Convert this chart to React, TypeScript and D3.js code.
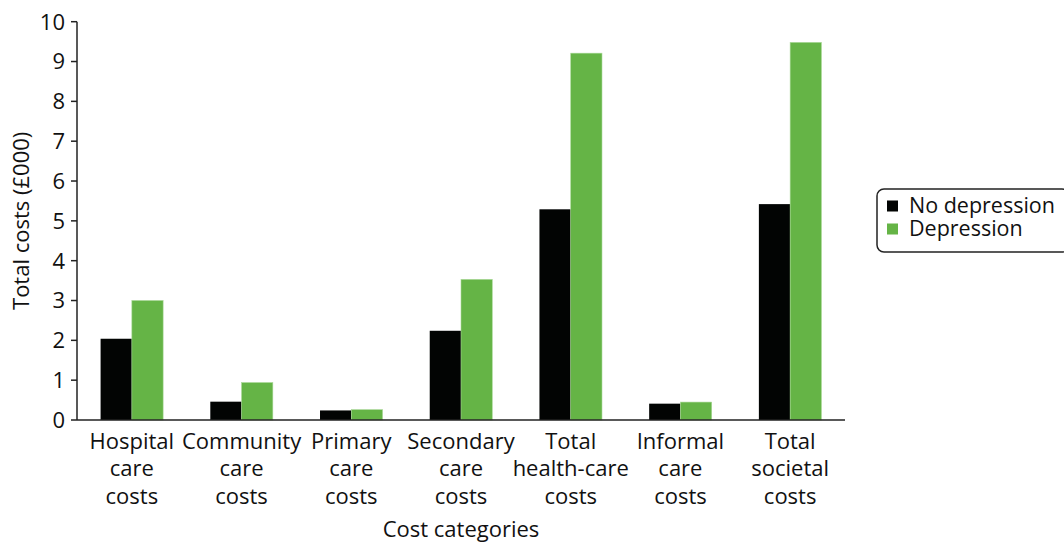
import React from "react";
import * as d3 from "d3";

const categories = [
  ["Hospital", "care", "costs"],
  ["Community", "care", "costs"],
  ["Primary", "care", "costs"],
  ["Secondary", "care", "costs"],
  ["Total", "health-care", "costs"],
  ["Informal", "care", "costs"],
  ["Total", "societal", "costs"],
];
const noDepression = [2.04, 0.46, 0.24, 2.24, 5.29, 0.41, 5.42];
const depression = [3.0, 0.94, 0.26, 3.53, 9.21, 0.45, 9.48];
const seriesNames = ["No depression", "Depression"];
const seriesColors = ["#020403", "#65B446"];
const yTicks = [0, 1, 2, 3, 4, 5, 6, 7, 8, 9, 10];

const W = 1064;
const H = 544;
const left = 77;
const right = 845;
const top = 21.7;
const bottom = 420;
const font = "'Open Sans', 'Noto Sans', sans-serif";
const fs = 22;

export default function App() {
  const x = d3
    .scaleBand<number>()
    .domain(d3.range(categories.length))
    .range([left, right])
    .paddingInner(0.43)
    .paddingOuter(0.215);
  const xs = d3.scaleBand<number>().domain([0, 1]).range([0, x.bandwidth()]);
  const y = d3.scaleLinear().domain([0, 10]).range([bottom, top]);
  const series = [noDepression, depression];

  return (
    <svg
      width={W}
      height={H}
      style={{ position: "absolute", left: 0, top: 0, background: "#fff" }}
      fontFamily={font}
    >
      {series.map((vals, si) =>
        vals.map((v, i) => (
          <rect
            key={`${si}-${i}`}
            x={(x(i) as number) + (xs(si) as number)}
            y={y(v)}
            width={xs.bandwidth()}
            height={bottom - y(v)}
            fill={seriesColors[si]}
            stroke={si === 1 ? "#a8d896" : "none"}
            strokeWidth={si === 1 ? 0.6 : 0}
          />
        ))
      )}
      {/* y axis */}
      <line x1={left} x2={left} y1={top} y2={bottom} stroke="#222" strokeWidth={1.5} />
      {yTicks.map((t) => (
        <g key={t}>
          <line x1={left - 6} x2={left} y1={y(t)} y2={y(t)} stroke="#222" strokeWidth={1.5} />
          <text
            x={left - 12}
            y={y(t)}
            dy="0.36em"
            textAnchor="end"
            fontSize={fs}
            fill="#111"
          >
            {t}
          </text>
        </g>
      ))}
      {/* x axis */}
      <line x1={left} x2={right} y1={bottom} y2={bottom} stroke="#222" strokeWidth={1.5} />
      {categories.map((lines, i) => (
        <text
          key={i}
          x={(x(i) as number) + x.bandwidth() / 2}
          y={448.5}
          textAnchor="middle"
          fontSize={fs}
          fill="#111"
        >
          {lines.map((l, j) => (
            <tspan key={j} x={(x(i) as number) + x.bandwidth() / 2} dy={j === 0 ? 0 : 27.5}>
              {l}
            </tspan>
          ))}
        </text>
      ))}
      <text x={(left + right) / 2} y={537} textAnchor="middle" fontSize={fs} fill="#111">
        Cost categories
      </text>
      <text
        transform={`translate(29, ${(top + bottom) / 2}) rotate(-90)`}
        textAnchor="middle"
        fontSize={fs}
        fill="#111"
      >
        Total costs (£000)
      </text>
      {/* legend */}
      <rect
        x={877}
        y={189}
        width={192}
        height={63}
        rx={7}
        ry={7}
        fill="#fff"
        stroke="#222"
        strokeWidth={1.5}
      />
      {seriesNames.map((n, i) => (
        <g key={n}>
          <rect x={887} y={200.5 + i * 23} width={11} height={11} fill={seriesColors[i]} />
          <text x={909} y={213 + i * 23} fontSize={21.5} fill="#111">
            {n}
          </text>
        </g>
      ))}
    </svg>
  );
}
